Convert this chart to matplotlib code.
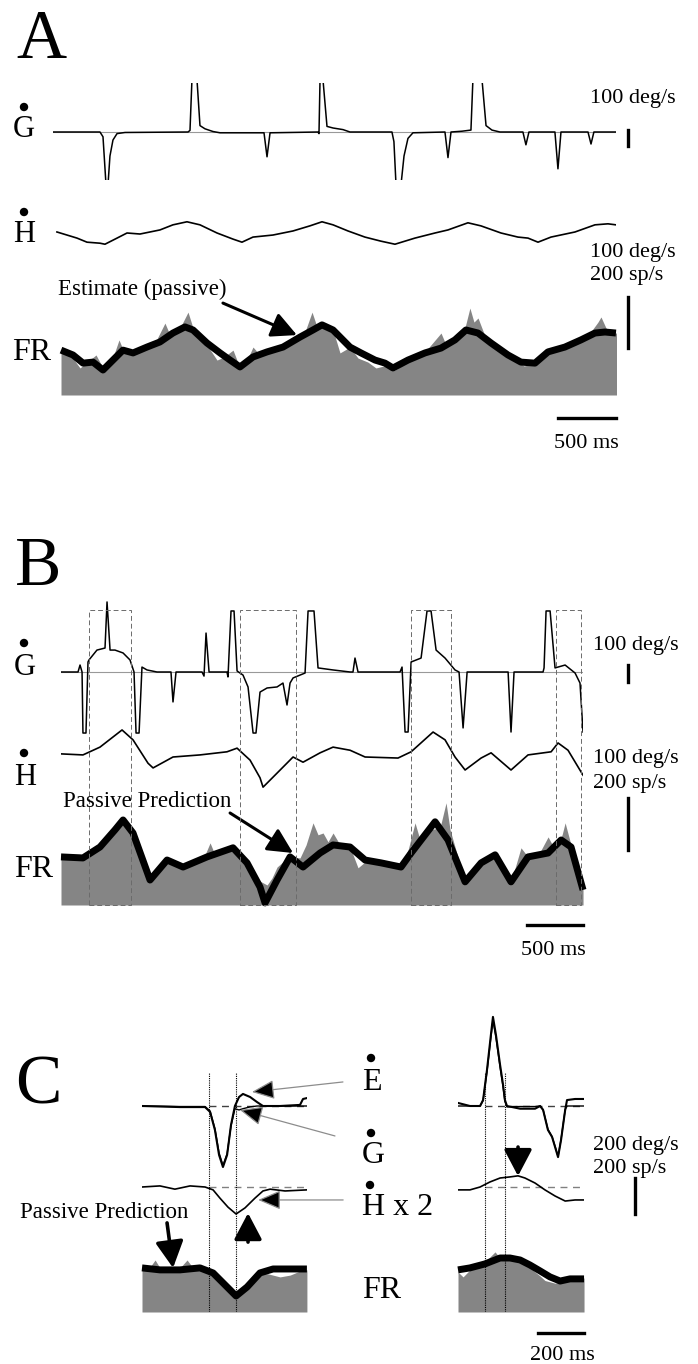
import matplotlib
matplotlib.use("Agg")
import matplotlib.pyplot as plt
from matplotlib.patches import Ellipse, Rectangle

W, H = 698, 1364
plt.rcParams['font.family'] = ['Liberation Serif', 'DejaVu Serif']

# ---------------- Panel A (time in ms, velocities in deg/s, FR in sp/s) ----------------
a_gaze_t = [0, 405, 431, 457, 474, 491, 517, 552, 621, 1164, 1181, 1198, 1241, 1267, 1310, 1379, 1440,
            1741, 1819, 1845, 1871, 2129, 2284, 2293, 2302, 2327, 2362, 2414, 2500, 2560,
            2922, 2939, 2957, 3000, 3026, 3060, 3103, 3379, 3405, 3431, 3526, 3603, 3620, 3698, 3733, 3784, 3853,
            4051, 4077, 4103, 4327, 4353, 4379, 4612, 4638, 4663, 4853]
a_gaze = [0, 0, -30, -330, -330, -150, -50, -10, -3, 0, 10, 330, 330, 40, 20, 3, -5,
          -5, -5, -155, -5, -2, 0, -10, 330, 330, 35, 25, 15, 0,
          0, -60, -330, -330, -150, -40, -5, 0, -160, 0, 5, 12, 330, 330, 40, 12, 0,
          0, -80, 0, 0, -230, 0, 0, -75, 0, 0]

a_head_t = [34, 207, 293, 405, 448, 552, 638, 750, 922, 1034, 1155, 1267, 1414, 1552, 1629, 1724, 1896, 2069,
            2215, 2319, 2414, 2543, 2689, 2827, 2948, 3120, 3293, 3405, 3577, 3689, 3862, 4008, 4095, 4181,
            4293, 4500, 4672, 4784, 4853]
a_head = [2, -10, -18, -20, -22, -10, 0, -2, 6, 16, 22, 16, 0, -12, -18, -8, -4, 4,
          14, 22, 16, 4, -8, -16, -22, -10, 0, 6, 20, 14, 0, -8, -10, -18,
          -8, 2, 16, 18, 16]

a_pred_t = [69, 172, 259, 345, 431, 517, 603, 690, 810, 922, 1034, 1138, 1207, 1327, 1440, 1526, 1612, 1724,
            1845, 1983, 2129, 2241, 2319, 2414, 2560, 2655, 2776, 2862, 2931, 3060, 3207, 3345, 3465, 3560,
            3664, 3776, 3922, 4034, 4155, 4267, 4413, 4551, 4672, 4758, 4853]
a_pred = [176, 157, 125, 129, 98, 137, 176, 165, 188, 208, 243, 267, 255, 204, 165, 137, 110, 149,
          169, 188, 227, 255, 275, 255, 188, 165, 137, 125, 106, 137, 165, 184, 216, 255,
          243, 204, 157, 129, 125, 169, 188, 216, 243, 247, 243]

a_fr_t = [69, 164, 233, 284, 371, 440, 509, 569, 612, 750, 879, 965, 1009, 1095, 1164, 1207, 1310, 1414, 1474,
          1552, 1612, 1681, 1724, 1784, 1914, 2043, 2172, 2233, 2276, 2345, 2414, 2474, 2560, 2629, 2715, 2784,
          2888, 2948, 3077, 3207, 3345, 3396, 3491, 3551, 3594, 3629, 3664, 3724, 3853, 3982, 4060, 4155, 4241,
          4370, 4525, 4629, 4698, 4724, 4767, 4819, 4862]
a_fr = [169, 149, 106, 125, 157, 98, 137, 216, 169, 180, 204, 282, 235, 263, 325, 263, 208, 137, 149,
        176, 106, 145, 188, 157, 176, 204, 247, 325, 267, 271, 255, 165, 188, 145, 129, 106,
        118, 98, 137, 169, 243, 188, 224, 263, 341, 286, 302, 231, 176, 137, 114, 122, 157,
        184, 216, 243, 286, 306, 263, 243, 243]

# ---------------- Panel B ----------------
b_gaze_t = [0, 152, 170, 188, 196, 223, 241, 250, 321, 393, 411, 438, 482, 554, 616, 652, 670, 697, 723, 768,
            857, 982, 1000, 1027, 1259, 1277, 1295, 1322, 1482, 1491, 1518, 1545, 1572, 1625, 1670, 1715, 1741,
            1777, 1840, 1929, 1982, 2018, 2045, 2072, 2179, 2206, 2259, 2295, 2429, 2581, 2607, 2625, 2652,
            3027, 3045, 3072, 3099, 3126, 3215, 3268, 3304, 3349, 3429, 3518, 3554, 3590, 3626, 3992, 4018,
            4045, 4304, 4313, 4331, 4367, 4411, 4501, 4590, 4634, 4661]
b_gaze = [0, 0, 41, 0, -359, -359, 59, 71, 129, 141, 412, 129, 129, 112, 71, 0, -359, -359, 29, 12,
          0, 0, -176, 0, 0, -24, 229, 0, 0, -29, 359, 359, 6, -18, -88, -359, -359,
          -118, -94, -88, -65, -194, -65, -35, -6, 359, 359, 24, 12, 0, 0, 82, 0,
          0, 29, -353, -353, 59, 82, 359, 359, 129, 82, 12, 0, -329, 0, 0, -353,
          0, 0, 24, 359, 359, 24, 41, -6, -65, -353]

b_head_t = [0, 196, 348, 545, 643, 777, 822, 1000, 1241, 1482, 1572, 1688, 1777, 1804, 1929, 2072, 2161,
            2313, 2429, 2581, 2715, 3009, 3126, 3322, 3429, 3518, 3608, 3751, 3840, 4018, 4170, 4376,
            4438, 4527, 4661]
b_head = [6, 4, 19, 52, 33, -12, -21, 0, 4, 10, 17, -6, -40, -58, -31, 0, -10,
          8, 19, 13, 0, -2, 10, 48, 33, 0, -25, -2, 8, -25, 4, 10,
          27, 13, -35]

b_pred_t = [0, 196, 348, 482, 554, 643, 795, 947, 1090, 1304, 1536, 1661, 1777, 1822, 1929, 2045, 2161,
            2313, 2429, 2581, 2715, 2858, 3036, 3126, 3340, 3456, 3608, 3751, 3876, 4018, 4170, 4349,
            4465, 4554, 4661]
b_pred = [185, 181, 223, 289, 327, 277, 96, 173, 146, 185, 220, 162, 69, 8, 96, 185, 146,
          200, 231, 223, 173, 162, 146, 200, 320, 250, 89, 162, 193, 89, 185, 200,
          250, 223, 58]

b_fr_t = [0, 196, 348, 482, 554, 643, 795, 947, 1090, 1286, 1331, 1375, 1536, 1661, 1759, 1840, 1884,
          1929, 2000, 2072, 2134, 2188, 2250, 2295, 2340, 2384, 2429, 2492, 2581, 2652, 2715, 2858,
          3036, 3099, 3161, 3206, 3295, 3384, 3438, 3474, 3608, 3751, 3876, 4018, 4107, 4170, 4277,
          4349, 4411, 4474, 4501, 4554, 4661]
b_fr = [185, 173, 223, 289, 335, 277, 96, 181, 150, 193, 239, 193, 220, 166, 96, 77, 104,
        146, 173, 185, 181, 231, 316, 270, 277, 243, 277, 231, 223, 143, 166, 166,
        146, 212, 316, 250, 289, 297, 393, 289, 89, 166, 193, 89, 220, 185, 204,
        262, 212, 270, 316, 231, 58]

# windows marked with dashed boxes (ms)
b_box_start = [250, 1598, 3126, 4420]
b_box_end = [625, 2099, 3483, 4644]

# ---------------- Panel C (two examples) ----------------
c1_t = [0, 165, 274, 296, 317, 335, 352, 370, 387, 404, 422, 439, 470, 500, 526, 600, 687, 700, 717]
c1_eye = [0, -6, -6, -33, -133, -272, -339, -272, -105, 0, 50, 67, 50, 22, 0, 0, 6, 39, 44]
c1_gaze = [0, -3, -3, -28, -125, -260, -330, -265, -110, -15, -22, -15, -5, 0, 0, 0, 0, 0, 0]
c1_head_t = [0, 78, 143, 209, 274, 309, 339, 374, 409, 448, 491, 526, 557, 622, 717]
c1_head = [0, 3, -6, 3, 0, -8, -31, -56, -75, -58, -31, -11, -6, -11, -8]
c1_pred_t = [0, 78, 165, 252, 309, 370, 409, 457, 513, 570, 644, 717]
c1_pred = [245, 234, 234, 245, 217, 139, 89, 139, 217, 239, 239, 239]
c1_fr_t = [0, 35, 57, 78, 165, 196, 222, 274, 309, 370, 409, 457, 513, 548, 600, 644, 687, 717]
c1_fr = [234, 250, 289, 245, 245, 289, 245, 234, 211, 145, 100, 145, 217, 212, 195, 205, 228, 234]
c1_marks = [291, 409]

c2_t = [0, 52, 96, 109, 126, 143, 152, 165, 183, 196, 204, 213, 270, 335, 357, 370, 391, 409, 426, 435,
        448, 466, 474, 509, 548]
c2_eye = [17, 0, 0, 33, 200, 395, 495, 395, 228, 117, 33, 0, -15, -15, 0, -22, -133, -172, -245, -284,
          -189, -22, 33, 39, 39]
c2_gaze = [0, 0, 0, 30, 190, 380, 475, 380, 215, 105, 25, -5, -3, -3, 0, -20, -130, -170, -240, -280,
           -185, -20, 0, 0, 0]
c2_head_t = [0, 52, 96, 139, 183, 226, 261, 291, 335, 378, 422, 466, 509, 548]
c2_head = [-8, -8, 0, 14, 25, 28, 31, 25, 11, -8, -25, -39, -36, -36]
c2_pred_t = [0, 52, 117, 183, 226, 270, 313, 357, 400, 444, 487, 548]
c2_pred = [234, 245, 267, 300, 300, 289, 261, 228, 195, 172, 184, 184]
c2_fr_t = [0, 22, 52, 117, 161, 183, 226, 270, 313, 357, 378, 422, 466, 548]
c2_fr = [222, 195, 234, 278, 334, 300, 300, 284, 245, 200, 175, 160, 172, 189]
c2_marks = [117, 204]

FILL = '0.52'

fig = plt.figure(figsize=(W / 100, H / 100), dpi=100)


def trace_ax(x0, px_per_ms, t_max, y_top, y_bot, zero_y, px_per_unit):
    # axes placed in pixel space, data limits chosen so that the scale bars hold
    x1 = x0 + t_max * px_per_ms
    ax = fig.add_axes([x0 / W, 1 - y_bot / H, (x1 - x0) / W, (y_bot - y_top) / H])
    ax.set_xlim(0, t_max)
    ax.set_ylim((zero_y - y_bot) / px_per_unit, (zero_y - y_top) / px_per_unit)
    ax.axis('off')
    return ax


def label(x, y, s, size, **kw):
    fig.text(x / W, 1 - y / H, s, fontsize=size, va='baseline', **kw)


def dot(x, y, d=7):
    fig.add_artist(Ellipse((x / W, 1 - y / H), d / W, d / H, transform=fig.transFigure,
                           color='black'))


def fr_plot(ax, fr_t, fr, pred_t, pred):
    ax.fill_between(fr_t, 0, fr, color=FILL, lw=0)
    ax.plot(pred_t, pred, color='black', lw=5, solid_capstyle='butt',
            solid_joinstyle='round', clip_on=False)


def big_arrow(ax, tip, dx, dy, lw=2.2, ms=17, hl=0.9, hw=0.45):
    ax.annotate('', xy=tip, xycoords='data', xytext=(dx, dy), textcoords='offset pixels',
                arrowprops=dict(arrowstyle=f'-|>,head_length={hl},head_width={hw}', lw=lw,
                                color='black', mutation_scale=ms, shrinkA=0, shrinkB=0),
                annotation_clip=False)


# ================= Panel A =================
label(16, 58, 'A', 50)
pxA = 0.116
ga = trace_ax(53, pxA, 4853, 83, 180, 132, 0.16)
ga.axhline(0, color='0.6', lw=0.8)
ga.plot(a_gaze_t, a_gaze, color='black', lw=1.1)
ga.plot([4957, 4957], [-88, 12], color='black', lw=2.4, clip_on=False)

ha = trace_ax(53, pxA, 4853, 205, 255, 233, 0.51)
ha.plot(a_head_t, a_head, color='black', lw=1.2)

fa = trace_ax(53, pxA, 4853, 290, 395, 395, 0.255)
fr_plot(fa, a_fr_t, a_fr, a_pred_t, a_pred)
fa.plot([4957, 4957], [184, 384], color='black', lw=2.4, clip_on=False)
fa.plot([4353, 4853], [-90, -90], color='black', lw=2.4, clip_on=False)
big_arrow(fa, (2103, 235), -74, 32)

dot(24, 107)
label(13, 137, 'G', 22)
dot(24, 212)
label(13, 242, 'H', 22)
label(12, 360, 'FR', 23)
label(590, 103, '100 deg/s', 16)
label(590, 257, '100 deg/s', 16)
label(590, 280, '200 sp/s', 16)
label(58, 295, 'Estimate (passive)', 16.5)
label(586, 448, '500 ms', 16, ha='center')

# ================= Panel B =================
label(15, 585, 'B', 50)
pxB = 0.112
gb = trace_ax(61, pxB, 4661, 598, 736, 672, 0.17)
gb.axhline(0, color='0.6', lw=0.8)
gb.plot(b_gaze_t, b_gaze, color='black', lw=1.1)
gb.plot([5063, 5063], [-59, 41], color='black', lw=2.4, clip_on=False)

hb = trace_ax(61, pxB, 4661, 720, 795, 757, 0.52)
hb.plot(b_head_t, b_head, color='black', lw=1.2)

fb = trace_ax(61, pxB, 4661, 790, 905, 905, 0.26)
fr_plot(fb, b_fr_t, b_fr, b_pred_t, b_pred)
fb.plot([5063, 5063], [212, 412], color='black', lw=2.4, clip_on=False)
fb.plot([4161, 4661], [-77, -77], color='black', lw=2.4, clip_on=False)
big_arrow(fb, (2072, 200), -63, 40)

# dashed windows spanning the three traces
bx = trace_ax(61, pxB, 4661, 610, 905, 905, 1.0)
for s, e in zip(b_box_start, b_box_end):
    bx.add_patch(Rectangle((s, 0), e - s, 295, fill=False, ec='0.42', lw=0.7,
                           ls=(0, (5, 3)), clip_on=False))

dot(24, 643)
label(14, 675, 'G', 22)
dot(24, 753)
label(14, 785, 'H', 22)
label(14, 877, 'FR', 23)
label(593, 650, '100 deg/s', 16)
label(593, 763, '100 deg/s', 16)
label(593, 788, '200 sp/s', 16)
label(63, 807, 'Passive Prediction', 16.5)
label(553, 955, '500 ms', 16, ha='center')

# ================= Panel C =================
label(15, 1103, 'C', 50)
pxC = 0.23
for x0, t_max, t, eye, gaze, h_t, head, p_t, pred, f_t, fr, marks in [
        (142, 717, c1_t, c1_eye, c1_gaze, c1_head_t, c1_head, c1_pred_t, c1_pred, c1_fr_t, c1_fr, c1_marks),
        (458, 548, c2_t, c2_eye, c2_gaze, c2_head_t, c2_head, c2_pred_t, c2_pred, c2_fr_t, c2_fr, c2_marks)]:
    eg = trace_ax(x0, pxC, t_max, 1010, 1175, 1106, 0.18)
    eg.plot([marks[0], t_max], [0, 0], color='0.25', lw=1.0, ls=(0, (5, 4)))
    eg.plot(t, gaze, color='black', lw=1.0)
    eg.plot(t, eye, color='black', lw=1.5)

    hh = trace_ax(x0, pxC, t_max, 1165, 1225, 1187, 0.18)
    hh.plot([marks[0], t_max], [0, 0], color='0.5', lw=1.0, ls=(0, (5, 4)))
    hh.plot(h_t, [2 * v for v in head], color='black', lw=1.2)

    ff = trace_ax(x0, pxC, t_max, 1240, 1312, 1312, 0.18)
    fr_plot(ff, f_t, fr, p_t, pred)

    vl = trace_ax(x0, pxC, t_max, 1072, 1312, 1312, 1.0)
    for m in marks:
        vl.axvline(m, color='black', lw=0.8, ls=(0, (1, 1)))

    if x0 == 142:
        big_arrow(ff, (135, 245), -6, 45, lw=2.6, ms=17, hl=0.95, hw=0.5)
        big_arrow(hh, (461, -145), 0, -29, lw=2.6, ms=17, hl=0.95, hw=0.5)
        thin = dict(arrowstyle='-|>,head_length=0.7,head_width=0.3', mutation_scale=20,
                    fc='black', ec='0.55', lw=0.9, shrinkA=0, shrinkB=0)
        eg.annotate('', xy=(478, 78), xytext=(91, 10), textcoords='offset pixels', arrowprops=thin,
                    annotation_clip=False)
        eg.annotate('', xy=(426, -22), xytext=(95, -26), textcoords='offset pixels', arrowprops=thin,
                    annotation_clip=False)
        hh.annotate('', xy=(505, -72), xytext=(85, 0), textcoords='offset pixels', arrowprops=thin,
                    annotation_clip=False)
    else:
        big_arrow(hh, (261, 61), 0, 29, lw=2.6, ms=17, hl=0.95, hw=0.5)
        hh.plot([770, 770], [-150, 50], color='black', lw=2.4, clip_on=False)
        ff.plot([348, 548], [-117, -117], color='black', lw=2.4, clip_on=False)

dot(371, 1058)
label(362, 1090, 'E', 23)
dot(371, 1133)
label(362, 1163, 'G', 23)
dot(370, 1185)
label(362, 1215, 'H x 2', 23)
label(362, 1298, 'FR', 23)
label(20, 1218, 'Passive Prediction', 16.5)
label(593, 1150, '200 deg/s', 16)
label(593, 1173, '200 sp/s', 16)
label(562, 1360, '200 ms', 16, ha='center')

fig.savefig('out.png', dpi=100, facecolor='white')
